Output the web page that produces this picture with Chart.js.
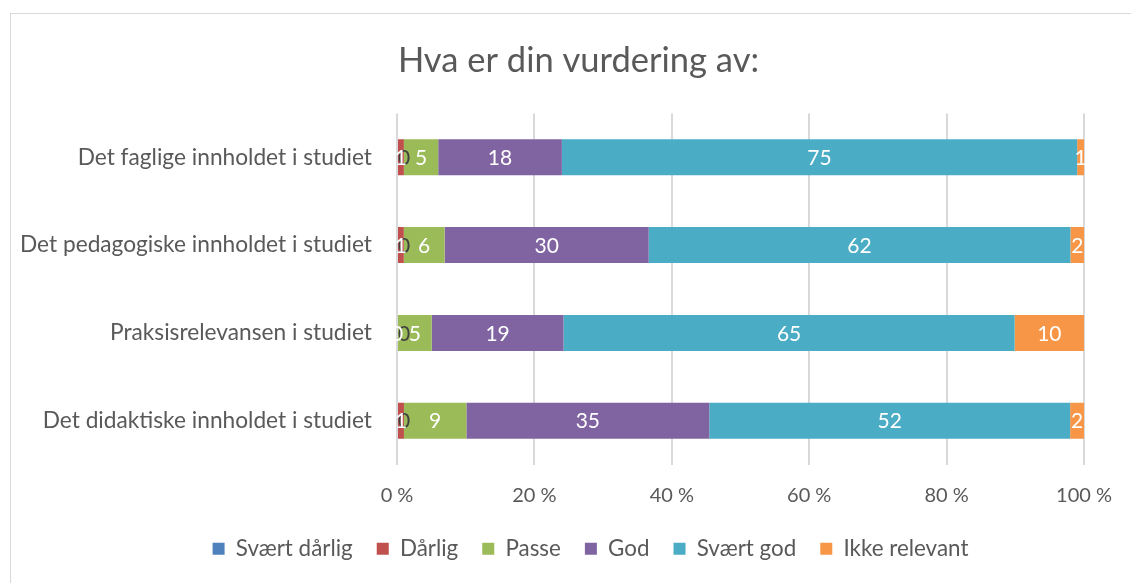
<!DOCTYPE html>
<html>
<head>
<meta charset="utf-8">
<script src="https://cdn.jsdelivr.net/npm/chart.js@4/dist/chart.umd.min.js"></script>
<style>
  body { margin: 0; background: #fff; }
  #frame { position: absolute; left: 10px; top: 13px; width: 1200px; height: 700px;
           border-top: 1px solid #d9d9d9; border-left: 1px solid #d9d9d9; }
  #wrap { position: absolute; left: 0; top: 0; width: 1131px; height: 583px; }
</style>
</head>
<body>
<div id="frame"></div>
<div id="wrap"><canvas id="myChart" width="1131" height="583"></canvas></div>
<script>
// kategorier (ovenfra og ned)
var categories = [
  "Det faglige innholdet i studiet",
  "Det pedagogiske innholdet i studiet",
  "Praksisrelevansen i studiet",
  "Det didaktiske innholdet i studiet"
];
var seriesNames = ["Svært dårlig", "Dårlig", "Passe", "God", "Svært god", "Ikke relevant"];
var seriesColors = ["#4F81BD", "#C0504D", "#9BBB59", "#8064A2", "#4BACC6", "#F79646"];

// antall svar per kategori
var svaertDarlig = [0, 0, 0, 0];
var darlig       = [1, 1, 0, 1];
var passe        = [5, 6, 5, 9];
var god          = [18, 30, 19, 35];
var svaertGod    = [75, 62, 65, 52];
var ikkeRelevant = [1, 2, 10, 2];

var xTicks = [0, 20, 40, 60, 80, 100];

var counts = [svaertDarlig, darlig, passe, god, svaertGod, ikkeRelevant];

// 100% stablet: regn om til prosent av total per kategori
var totals = categories.map(function (c, i) {
  var s = 0;
  counts.forEach(function (arr) { s += arr[i]; });
  return s;
});

var datasets = counts.map(function (arr, k) {
  return {
    label: seriesNames[k],
    data: arr.map(function (v, i) { return v / totals[i] * 100; }),
    counts: arr,
    backgroundColor: seriesColors[k],
    borderWidth: 0,
    barPercentage: 0.41,
    categoryPercentage: 1.0
  };
});

var textColor = "#595959";
var fontFamily = "Lato, 'Open Sans', sans-serif";

var labelPlugin = {
  id: "barLabels",
  afterDatasetsDraw: function (chart) {
    var ctx = chart.ctx;
    ctx.save();
    ctx.font = "21px " + fontFamily;
    ctx.textAlign = "center";
    ctx.textBaseline = "middle";
    chart.data.datasets.forEach(function (ds, k) {
      var meta = chart.getDatasetMeta(k);
      meta.data.forEach(function (bar, i) {
        var p = bar.getCenterPoint();
        // tomme segmenter: mørk tekst litt til høyre for aksen
        var dx = k === 0 ? 7 : 0;
        ctx.fillStyle = k === 0 ? "#404040" : "#ffffff";
        ctx.fillText(String(ds.counts[i]), p.x + dx, p.y + 1);
      });
    });
    ctx.restore();
  }
};

// Excel sentrerer tittel og forklaring på hele diagramrammen, som er bredere enn bildet
var shiftPlugin = {
  id: "shiftBoxes",
  afterLayout: function (chart) {
    var l = chart.legend;
    l.left += 38; l.right += 38;
    l.top -= 13; l.bottom -= 13;
    var t = chart.titleBlock;
    t.left += 26; t.right += 26;
  }
};

var ctx = document.getElementById("myChart").getContext("2d");
var chart = new Chart(ctx, {
  type: "bar",
  data: { labels: categories, datasets: datasets },
  options: {
    indexAxis: "y",
    responsive: false,
    animation: false,
    layout: { padding: { left: 20, right: 46, top: 40, bottom: 0 } },
    plugins: {
      title: {
        display: true,
        text: "Hva er din vurdering av:",
        color: textColor,
        font: { family: fontFamily, size: 34.5, weight: "normal" },
        padding: { top: 0, bottom: 32 }
      },
      legend: {
        position: "bottom",
        labels: {
          color: textColor,
          font: { family: fontFamily, size: 22.4 },
          boxWidth: 12,
          boxHeight: 12,
          padding: 24
        }
      },
      tooltip: { enabled: false }
    },
    scales: {
      x: {
        stacked: true,
        min: 0,
        max: 100,
        afterBuildTicks: function (s) {
          s.ticks = xTicks.map(function (v) { return { value: v }; });
        },
        ticks: {
          color: textColor,
          font: { family: fontFamily, size: 20 },
          padding: 19,
          callback: function (v) { return v + " %"; }
        },
        grid: { color: "#d9d9d9", lineWidth: 2, drawTicks: false },
        border: { display: false }
      },
      y: {
        stacked: true,
        afterFit: function (s) { s.width = 377; },
        ticks: {
          color: textColor,
          font: { family: fontFamily, size: 22.7 },
          padding: 17
        },
        grid: { display: false },
        border: { display: false }
      }
    }
  },
  plugins: [labelPlugin, shiftPlugin]
});
</script>
</body>
</html>
